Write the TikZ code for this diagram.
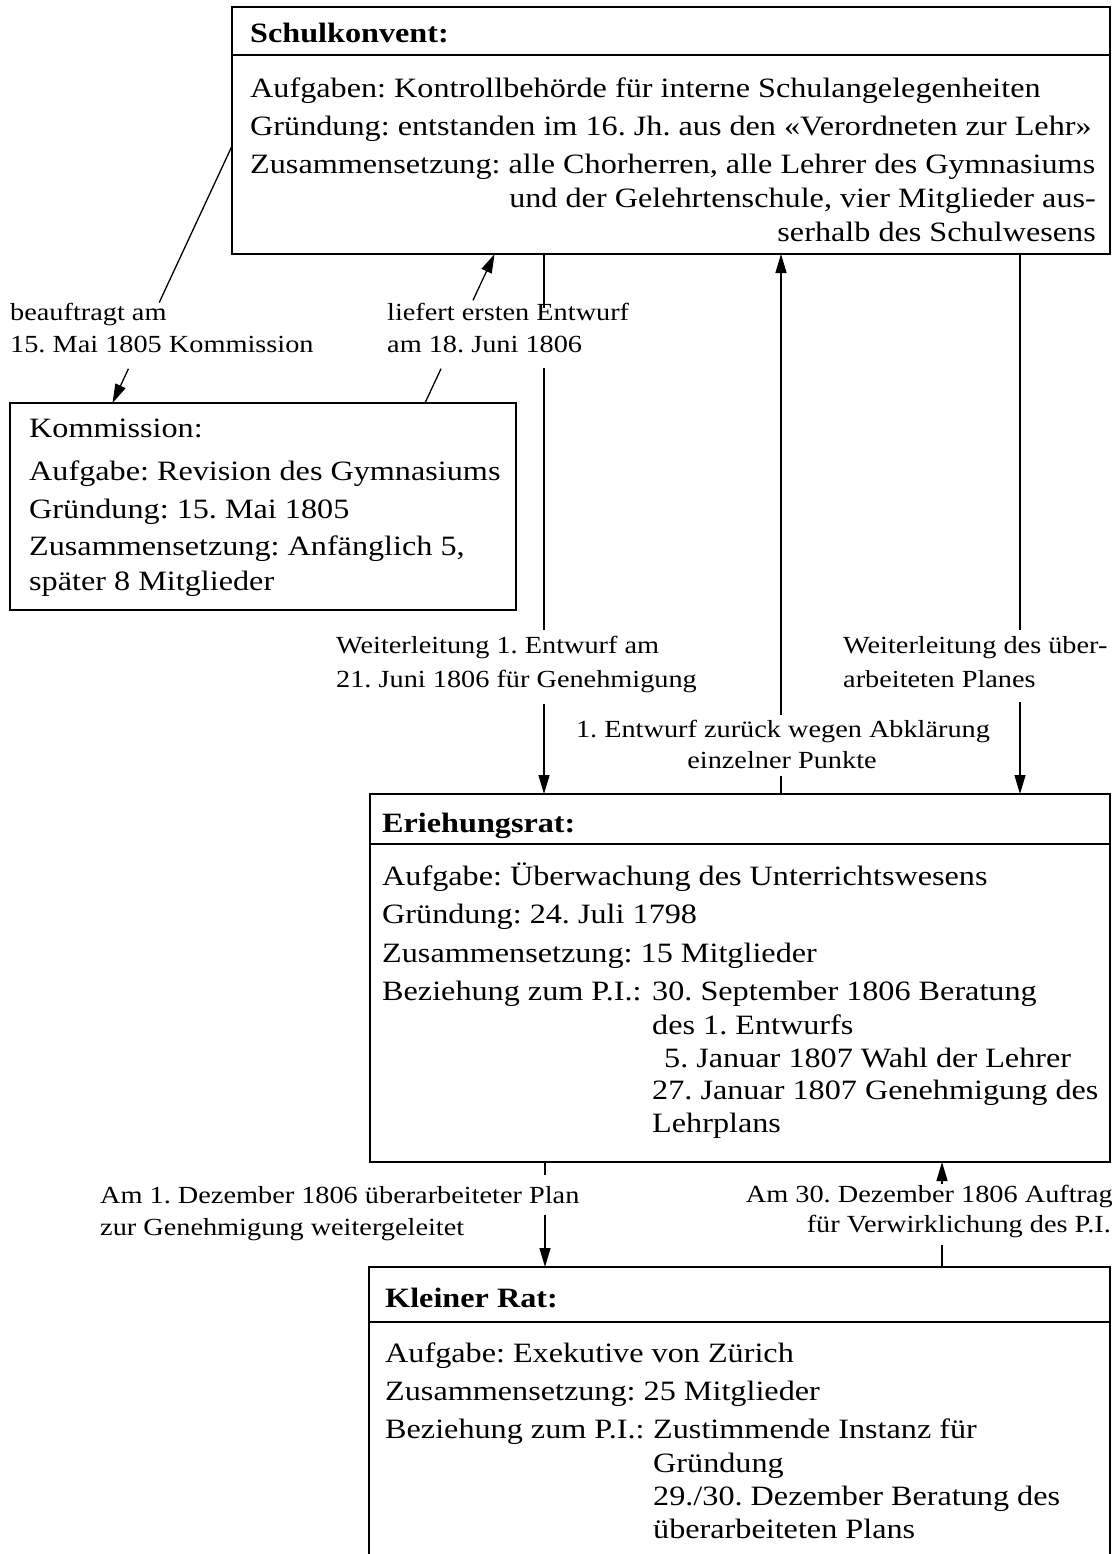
\documentclass[tikz,border=0pt]{standalone}
\usepackage{fontspec}
\setmainfont{Liberation Serif}[FakeStretch=1.15]
\usetikzlibrary{arrows.meta,calc}
\frenchspacing
\begin{document}
\begin{tikzpicture}[x=1pt,y=-1pt,
  frame/.style={draw,line width=2pt,inner sep=0pt,outer sep=0pt,anchor=north west,rectangle},
  divider/.style={line width=2pt},
  conn/.style={line width=1.3pt},
  arr/.style={conn,-{Triangle[length=19pt,width=11pt]}},
  body/.style={font=\fontsize{28}{32}\selectfont,inner sep=0pt,anchor=base west},
  bodyr/.style={body,anchor=base east},
  title/.style={body,font=\fontsize{28}{32}\selectfont\bfseries},
  lab/.style={font=\fontsize{24.6}{28}\selectfont,inner sep=0pt,anchor=base west},
  labr/.style={lab,anchor=base east},
  labc/.style={lab,anchor=base},
]
\useasboundingbox (0,0) rectangle (1118,1554);
\fill[white] (0,0) rectangle (1118,1554);

% boxes
\node[frame,minimum width=878pt,minimum height=247pt] (sk) at (232,7) {};
\node[frame,minimum width=506pt,minimum height=207pt] (kom) at (10,403) {};
\node[frame,minimum width=740pt,minimum height=368pt] (er) at (370,794) {};
\node[frame,minimum width=741pt,minimum height=310pt] (kr) at (369,1267) {};
\draw[divider] ($(sk.north west)+(0,48)$) -- ($(sk.north east)+(0,48)$);
\draw[divider] ($(er.north west)+(0,50)$) -- ($(er.north east)+(0,50)$);
\draw[divider] ($(kr.north west)+(0,55)$) -- ($(kr.north east)+(0,55)$);

% Schulkonvent
\node[title] (skT) at (250,43) {Schulkonvent:};
\node[body] (sk1) at (250,98) {Aufgaben: Kontrollbehörde für interne Schulangelegenheiten};
\node[body] (sk2) at (250,136) {Gründung: entstanden im 16. Jh. aus den «Verordneten zur Lehr»};
\node[body] (sk3) at (250,174) {Zusammensetzung: alle Chorherren, alle Lehrer des Gymnasiums};
\node[bodyr] (sk4) at (1096,208) {und der Gelehrtenschule, vier Mitglieder aus-};
\node[bodyr] (sk5) at (1096,242) {serhalb des Schulwesens};

% Kommission
\node[body] (k0) at (29,437) {Kommission:};
\node[body] (k1) at (29,480) {Aufgabe: Revision des Gymnasiums};
\node[body] (k2) at (29,518) {Gründung: 15. Mai 1805};
\node[body] (k3) at (29,555) {Zusammensetzung: Anfänglich 5,};
\node[body] (k4) at (29,590) {später 8 Mitglieder};

% Erziehungsrat
\node[title] (eT) at (382,832) {Eriehungsrat:};
\node[body] (e1) at (382,885) {Aufgabe: Überwachung des Unterrichtswesens};
\node[body] (e2) at (382,923) {Gründung: 24. Juli 1798};
\node[body] (e3) at (382,962) {Zusammensetzung: 15 Mitglieder};
\node[body] (e4) at (382,1000) {Beziehung zum P.I.:};
\node[body] (e5) at (652,1000) {30. September 1806 Beratung};
\node[body] (e6) at (652,1034) {des 1. Entwurfs};
\node[body] (e7) at (664,1067) {5. Januar 1807 Wahl der Lehrer};
\node[body] (e8) at (652,1099) {27. Januar 1807 Genehmigung des};
\node[body] (e9) at (652,1132) {Lehrplans};

% Kleiner Rat
\node[title] (rT) at (385,1307) {Kleiner Rat:};
\node[body] (r1) at (385,1362) {Aufgabe: Exekutive von Zürich};
\node[body] (r2) at (385,1400) {Zusammensetzung: 25 Mitglieder};
\node[body] (r3) at (385,1438) {Beziehung zum P.I.:};
\node[body] (r4) at (653,1438) {Zustimmende Instanz für};
\node[body] (r5) at (653,1472) {Gründung};
\node[body] (r6) at (653,1505) {29./30. Dezember Beratung des};
\node[body] (r7) at (653,1538) {überarbeiteten Plans};

% connector labels
\node[lab] (l1a) at (10,320) {beauftragt am};
\node[lab] (l1b) at (10,352) {15. Mai 1805 Kommission};
\node[lab] (l2a) at (387,320) {liefert ersten Entwurf};
\node[lab] (l2b) at (387,352) {am 18. Juni 1806};
\node[lab] (l3a) at (336,653) {Weiterleitung 1. Entwurf am};
\node[lab] (l3b) at (336,687) {21. Juni 1806 für Genehmigung};
\node[lab] (l5a) at (843,653) {Weiterleitung des über-};
\node[lab] (l5b) at (843,687) {arbeiteten Planes};
\node[labc] (l4a) at (783,737) {1. Entwurf zurück wegen Abklärung};
\node[labc] (l4b) at (782,768) {einzelner Punkte};
\node[lab] (l6a) at (100,1203) {Am 1. Dezember 1806 überarbeiteter Plan};
\node[lab] (l6b) at (100,1235) {zur Genehmigung weitergeleitet};
\node[labr] (l7a) at (1113,1202) {Am 30. Dezember 1806 Auftrag};
\node[labr] (l7b) at (1111,1232) {für Verwirklichung des P.I.};

% column coordinates
\coordinate (x544) at (544,0);
\coordinate (x545) at (545,0);
\coordinate (x781) at (781,0);
\coordinate (x1020) at (1020,0);
\coordinate (x942) at (942,0);

% 1: Schulkonvent -> Kommission
\coordinate (a1) at ($(sk.north west)+(0,139)$);
\coordinate (a2) at ($(kom.north west)+(102.5,0)$);
\draw[conn] (a1) -- ($(a1)!0.609!(a2)$);
\draw[arr] ($(a1)!0.867!(a2)$) -- (a2);

% 2: Kommission -> Schulkonvent
\coordinate (b1) at ($(kom.north west)+(415,0)$);
\coordinate (b2) at ($(sk.south west)+(262.6,0)$);
\draw[conn] (b1) -- ($(b1)!0.23!(b2)$);
\draw[arr] ($(b1)!0.689!(b2)$) -- (b2);

% 3: Schulkonvent -> Erziehungsrat (first draft)
\coordinate (g3a) at (544,308);
\coordinate (g3b) at (544,368);
\coordinate (g3c) at (544,630);
\coordinate (g3d) at (544,704);
\draw[conn] (x544 |- sk.south) -- (g3a);
\draw[conn] (g3b) -- (g3c);
\draw[arr] (g3d) -- (x544 |- er.north);

% 4: Erziehungsrat -> Schulkonvent (back)
\coordinate (g4a) at (781,776);
\coordinate (g4b) at (781,715);
\draw[conn] (x781 |- er.north) -- (g4a);
\draw[arr] (g4b) -- (x781 |- sk.south);

% 5: Schulkonvent -> Erziehungsrat (revised)
\coordinate (g5a) at (1020,630);
\coordinate (g5b) at (1020,702);
\draw[conn] (x1020 |- sk.south) -- (g5a);
\draw[arr] (g5b) -- (x1020 |- er.north);

% 6: Erziehungsrat -> Kleiner Rat
\coordinate (g6a) at (545,1175);
\coordinate (g6b) at (545,1215);
\draw[conn] (x545 |- er.south) -- (g6a);
\draw[arr] (g6b) -- (x545 |- kr.north);

% 7: Kleiner Rat -> Erziehungsrat
\coordinate (g7a) at (942,1245);
\coordinate (g7b) at (942,1184);
\draw[conn] (x942 |- kr.north) -- (g7a);
\draw[arr] (g7b) -- (x942 |- er.south);
\end{tikzpicture}
\end{document}
